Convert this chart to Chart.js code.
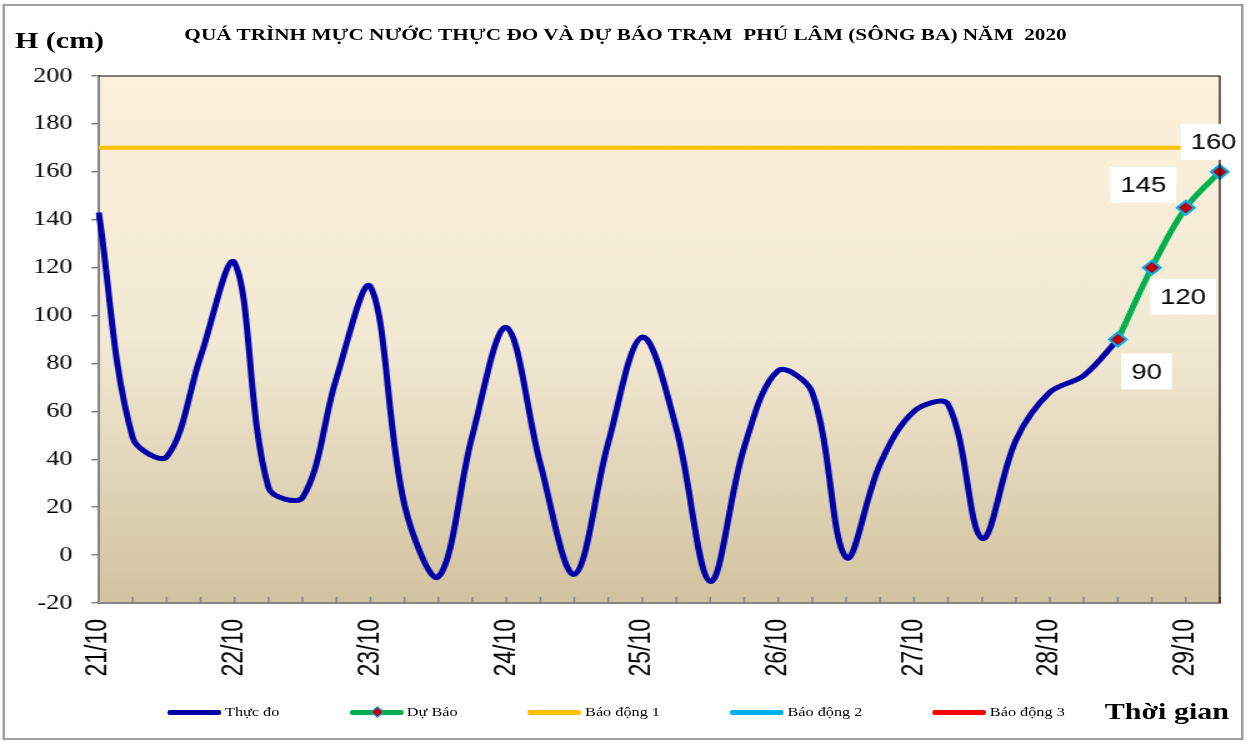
<!DOCTYPE html>
<html lang="vi">
<head>
  <meta charset="UTF-8" />
  <title>Mực nước Phú Lâm</title>
  <script src="https://cdn.jsdelivr.net/npm/chart.js"></script>
  <style>
    html, body { margin: 0; padding: 0; background: #fff; overflow: hidden; }
    /* the whole chart is laid out 1001 wide and stretched to 1251 like the source picture */
    #wrap { position: relative; width: 1001px; height: 746px; transform: scaleX(1.24975); transform-origin: 0 0; }
    #frame { position: absolute; left: 2px; top: 4px; width: 993px; height: 736px; border: 2px solid #a0a0a0; box-sizing: border-box; pointer-events: none; }
    canvas { position: absolute; left: 0; top: 0; }
    .txt { position: absolute; font-family: "Liberation Serif", "Times New Roman", serif; color: #000; white-space: nowrap; }
    #title { left: 0; width: 1001px; top: 24px; text-align: center; font-size: 17px; font-weight: bold; line-height: 22px; }
    #ylab { left: 12px; top: 26px; font-size: 24px; font-weight: bold; line-height: 28px; }
    #xlab { left: 884px; top: 697px; font-size: 24px; font-weight: bold; line-height: 28px; }
    #legend { position: absolute; left: 134px; top: 702px; display: flex; gap: 56px; align-items: center; font-family: "Liberation Serif", serif; font-size: 13px; line-height: 20px; }
    #legend .item { display: flex; align-items: center; }
    #legend .ln { position: relative; display: inline-block; width: 43px; height: 5px; border-radius: 2px; margin-right: 3px; }
    #legend .mk { position: absolute; left: 18px; top: -2px; width: 6px; height: 6px; background: #C00000; border: 1px solid #00B0F0; transform: rotate(45deg); }
  </style>
</head>
<body>
  <div id="wrap">
    <canvas id="levelChart" width="1001" height="746"></canvas>
    <div id="frame"></div>
    <div id="title" class="txt">QUÁ TRÌNH MỰC NƯỚC THỰC ĐO VÀ DỰ BÁO TRẠM&nbsp; PHÚ LÂM (SÔNG BA) NĂM&nbsp; 2020</div>
    <div id="ylab" class="txt">H (cm)</div>
    <div id="legend">
      <div class="item"><span class="ln" style="background:#0000A8"></span><span>Thực đo</span></div>
      <div class="item"><span class="ln" style="background:#00B050"><span class="mk"></span></span><span>Dự Báo</span></div>
      <div class="item"><span class="ln" style="background:#FFC000"></span><span>Báo động 1</span></div>
      <div class="item"><span class="ln" style="background:#00B0F0"></span><span>Báo động 2</span></div>
      <div class="item"><span class="ln" style="background:#FF0000"></span><span>Báo động 3</span></div>
    </div>
    <div id="xlab" class="txt">Thời gian</div>
  </div>

  <script>
    // days on the axis, one reading every 6 hours
    const days = ['21/10', '22/10', '23/10', '24/10', '25/10', '26/10', '27/10', '28/10', '29/10'];
    // observed water level (cm), 21/10 00h .. 28/10 12h
    const observed = [143, 49, 41, 83, 122, 28, 24, 74, 112, 21, -9, 50, 95, 38, -8, 47,
                      91, 53, -11, 45, 77, 68, -1, 38, 60, 63, 7, 48, 68, 75, 90];
    // forecast, 28/10 12h .. 29/10 06h
    const forecast = [90, 120, 145, 160];
    // alarm levels (cm)
    const alarm1 = 170, alarm2 = 270, alarm3 = 370;
    const yTicks = { min: -20, max: 200, step: 20 };

    const labels = [];
    days.slice(0, 8).forEach(d => labels.push(d, '', '', ''));
    labels.push(days[8], '');

    const n = labels.length;
    const obsData = observed.concat(Array(n - observed.length).fill(null));
    const fcStart = observed.length - 1;
    const fcData = Array(fcStart).fill(null).concat(forecast);
    const level = v => Array(n).fill(v);

    // where the forecast value boxes sit relative to their point
    const boxOffsets = [[23, 32], [25, 29], [-34, -23], [-5, -30]];

    const chartDeco = {
      id: 'chartDeco',
      beforeDraw(chart) {
        const { ctx, chartArea: a } = chart;
        const g = ctx.createLinearGradient(0, a.top, 0, a.bottom);
        g.addColorStop(0, '#FDF1DC');
        g.addColorStop(0.5, '#F1E9D3');
        g.addColorStop(1, '#D2C39F');
        ctx.save();
        ctx.fillStyle = g;
        ctx.fillRect(a.left, a.top, a.right - a.left, a.bottom - a.top);
        ctx.restore();
      },
      afterDraw(chart) {
        const { ctx, chartArea: a, scales } = chart;
        ctx.save();
        // small ticks pointing into the plot
        ctx.strokeStyle = '#868686';
        ctx.lineWidth = 1.5;
        for (let i = 0; i < n; i++) {
          const x = scales.x.getPixelForValue(i);
          ctx.beginPath();
          ctx.moveTo(x, a.bottom);
          ctx.lineTo(x, a.bottom - 6);
          ctx.stroke();
        }
        // top and right frame
        ctx.strokeStyle = '#000';
        ctx.lineWidth = 1.2;
        ctx.beginPath();
        ctx.moveTo(a.left, a.top);
        ctx.lineTo(a.right, a.top);
        ctx.lineTo(a.right, a.bottom);
        ctx.stroke();

        // forecast value labels
        const meta = chart.getDatasetMeta(1);
        ctx.font = '22px "Liberation Sans", Arial, sans-serif';
        ctx.textAlign = 'center';
        ctx.textBaseline = 'middle';
        forecast.forEach((v, k) => {
          const p = meta.data[fcStart + k];
          const cx = p.x + boxOffsets[k][0];
          const cy = p.y + boxOffsets[k][1];
          const w = ctx.measureText(String(v)).width + 16;
          const h = 36;
          ctx.fillStyle = '#fff';
          ctx.fillRect(cx - w / 2, cy - h / 2, w, h);
          ctx.fillStyle = '#000';
          ctx.fillText(String(v), cx, cy + 1);
        });
        ctx.restore();
      }
    };

    new Chart(document.getElementById('levelChart'), {
      type: 'line',
      data: {
        labels: labels,
        datasets: [
          {
            label: 'Thực đo',
            data: obsData,
            borderColor: '#0000A8',
            borderWidth: 5,
            pointRadius: 0,
            tension: 0.35,
            order: 1
          },
          {
            label: 'Dự Báo',
            data: fcData,
            borderColor: '#00B050',
            borderWidth: 5,
            tension: 0.35,
            pointStyle: 'rectRot',
            pointRadius: 7,
            pointBackgroundColor: '#C00000',
            pointBorderColor: '#00B0F0',
            pointBorderWidth: 2,
            order: 0
          },
          { label: 'Báo động 1', data: level(alarm1), borderColor: '#FFC000', borderWidth: 4, pointRadius: 0, order: 2 },
          { label: 'Báo động 2', data: level(alarm2), borderColor: '#00B0F0', borderWidth: 4, pointRadius: 0, order: 3 },
          { label: 'Báo động 3', data: level(alarm3), borderColor: '#FF0000', borderWidth: 4, pointRadius: 0, order: 4 }
        ]
      },
      options: {
        responsive: false,
        animation: false,
        layout: { padding: { left: 0, right: 25, top: 76, bottom: 0 } },
        plugins: {
          legend: { display: false },
          title: { display: false },
          tooltip: { enabled: false }
        },
        scales: {
          x: {
            offset: false,
            grid: { display: false, drawTicks: false },
            border: { color: '#868686', width: 2 },
            ticks: {
              autoSkip: false,
              maxRotation: 90,
              minRotation: 90,
              padding: 16,
              color: '#000',
              font: { family: '"Liberation Sans", Arial, sans-serif', size: 23 }
            },
            afterFit(scale) {
              scale.height = 143;
              scale.paddingLeft = 0;
              scale.paddingRight = 0;
            }
          },
          y: {
            min: yTicks.min,
            max: yTicks.max,
            grid: { drawOnChartArea: false, drawTicks: true, tickLength: 6, color: '#868686', lineWidth: 1.5 },
            border: { color: '#868686', width: 2 },
            ticks: {
              stepSize: yTicks.step,
              padding: 15,
              color: '#000',
              font: { family: '"Liberation Serif", "Times New Roman", serif', size: 21 }
            },
            afterFit(scale) { scale.width = 79; }
          }
        }
      },
      plugins: [chartDeco]
    });
  </script>
</body>
</html>
